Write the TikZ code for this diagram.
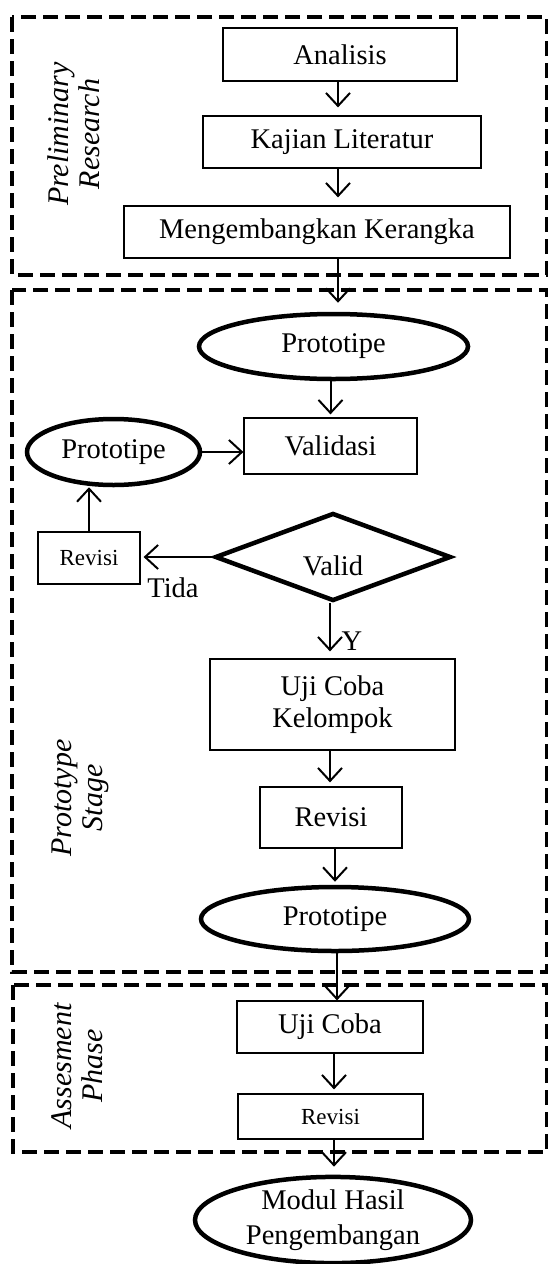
\documentclass[tikz,border=0pt]{standalone}
\usepackage{fontspec}
\setmainfont{Liberation Serif}
\usetikzlibrary{shapes.geometric,arrows.meta,calc}
\begin{document}
\begin{tikzpicture}[x=1pt,y=-1pt,
  big/.style={font=\fontsize{28.5}{32}\selectfont},
  small/.style={font=\fontsize{23}{26}\selectfont},
  procbox/.style={draw,line width=1.2pt,rectangle,inner sep=0pt,align=center,big},
  ovalbox/.style={draw,line width=4.5pt,ellipse,inner sep=0pt,align=center,big},
  decbox/.style={draw,line width=4.5pt,diamond,inner sep=0pt,big},
  phase/.style={draw,line width=4.8pt,dash pattern=on 15pt off 7pt},
  phaselabel/.style={rotate=90,align=center,font=\fontsize{30}{31}\selectfont\itshape},
  flow/.style={line width=2pt,-{Straight Barb[length=13pt,width=24pt]}},
  lbl/.style={big,inner sep=0pt}
]
\useasboundingbox (0,0) rectangle (548,1264);
% phase frames
\draw[phase] (12,17) rectangle (547,275);
\draw[phase] (12,290) rectangle (547,972);
\draw[phase] (13,985) rectangle (547,1152);
% phase labels
\node[phaselabel] (lab1) at (74,134) {Preliminary\\Research};
\node[phaselabel] (lab2) at (80,798) {Prototype\\Stage};
\node[phaselabel] (lab3) at (77,1066) {Assesment\\Phase};
% nodes
\node[procbox,minimum width=234pt,minimum height=53pt] (anal) at (340,54.5) {Analisis};
\node[procbox,minimum width=278pt,minimum height=52pt] (kaj) at (342,142) {Kajian Literatur};
\node[procbox,minimum width=386pt,minimum height=52pt] (meng) at (317,232) {Mengembangkan Kerangka};
\node[ovalbox,minimum width=269pt,minimum height=65pt] (p1) at (333.5,346.5) {Prototipe};
\node[procbox,minimum width=173pt,minimum height=56pt] (val) at (330.5,446) {Validasi};
\node[ovalbox,minimum width=173pt,minimum height=66pt] (p2) at (113.5,452) {Prototipe};
\node[procbox,small,minimum width=102pt,minimum height=52pt] (rev1) at (89,558) {Revisi};
\node[decbox,minimum width=236pt,minimum height=88pt] (dia) at (333,557) {\raisebox{-18pt}[0pt][0pt]{Valid}};
\node[lbl] (tida) at (173,588) {Tida};
\node[lbl] (ylab) at (352,641) {Y};
\node[procbox,minimum width=245pt,minimum height=91pt] (ujk) at (332.5,704.5) {Uji Coba\\Kelompok};
\node[procbox,minimum width=142pt,minimum height=61pt] (rev2) at (331,817.5) {Revisi};
\node[ovalbox,minimum width=268pt,minimum height=64pt] (p3) at (335,919) {Prototipe};
\node[procbox,minimum width=186pt,minimum height=52pt] (uji) at (330,1027) {Uji Coba};
\node[procbox,small,minimum width=185pt,minimum height=45pt] (rev3) at (330.5,1116.5) {Revisi};
\node[ovalbox,minimum width=276pt,minimum height=78pt,font=\fontsize{28.5}{35}\selectfont] (modul) at (333,1220) {Modul Hasil\\Pengembangan};
% connectors
\coordinate (cx) at (338,0);
\draw[flow,shorten >=8pt] (anal.south -| cx) -- (kaj.north -| cx);
\draw[flow,shorten >=8pt] (kaj.south -| cx) -- (meng.north -| cx);
\draw[flow,shorten >=9pt] (meng.south -| cx) -- (p1.north -| cx);
\draw[flow,shorten >=3pt] (p1.south -| val.north) -- (val.north);
\draw[flow] (p2.east) -- (val.west |- p2.east);
\draw[flow,shorten >=3pt] (dia.west) -- (rev1.east |- dia.west);
\draw[flow] (rev1.north) -- (p2.south -| rev1.north);
\draw[flow,shorten >=7pt] (dia.south -| 330,0) -- (ujk.north -| 330,0);
\draw[flow,shorten >=4pt] (ujk.south -| 330,0) -- (rev2.north -| 330,0);
\draw[flow,shorten >=3pt] (rev2.south -| p3.north) -- (p3.north);
\draw[flow] (p3.south -| 337,0) -- (uji.north -| 337,0);
\draw[flow,shorten >=4pt] (uji.south -| 334,0) -- (rev3.north -| 334,0);
\draw[flow,shorten >=8pt] (rev3.south -| 334,0) -- (modul.north -| 334,0);
\end{tikzpicture}
\end{document}
